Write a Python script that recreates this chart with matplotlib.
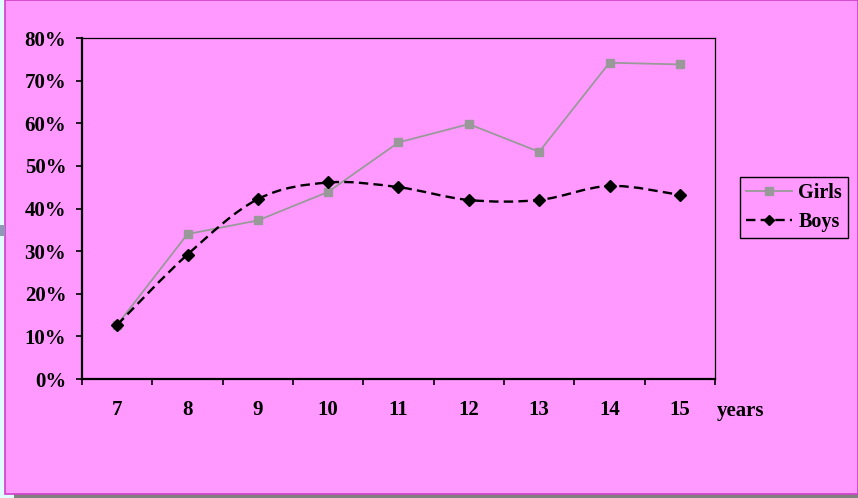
import matplotlib
matplotlib.use("Agg")
import matplotlib.pyplot as plt
from matplotlib.path import Path
from matplotlib.patches import PathPatch, Rectangle
from matplotlib.lines import Line2D
from matplotlib.ticker import FixedLocator, FuncFormatter
import numpy as np

ages = ["7", "8", "9", "10", "11", "12", "13", "14", "15"]
girls = [12.7, 34.0, 37.2, 43.9, 55.5, 59.8, 53.3, 74.2, 73.8]
boys = [12.7, 29.2, 42.2, 46.1, 45.0, 42.0, 42.0, 45.3, 43.2]
y_ticks = [0, 10, 20, 30, 40, 50, 60, 70, 80]
x_unit = "years"

W, H = 858, 498
plt.rcParams["font.family"] = ["Liberation Serif", "DejaVu Serif"]
plt.rcParams["font.weight"] = "bold"

fig = plt.figure(figsize=(W / 100, H / 100), dpi=100, facecolor="#E0FFFF")

# pink panel with a magenta frame and a grey drop shadow
fig.patches.append(Rectangle((14 / W, 0), (W - 14) / W, 4 / H, transform=fig.transFigure,
                             facecolor="#808080", edgecolor="none", zorder=-10))
fig.patches.append(Rectangle((5 / W, 4 / H), (W - 5) / W, (H - 4) / H, transform=fig.transFigure,
                             facecolor="#FF99FF", edgecolor="#D040C8", linewidth=1.2, zorder=-10))
fig.patches.append(Rectangle((0, (H - 236) / H), 5 / W, 11 / H, transform=fig.transFigure,
                             facecolor="#9098B8", edgecolor="none", zorder=-10))

ax = fig.add_axes([82 / W, (H - 379) / H, 633 / W, 341 / H])
ax.set_zorder(1)
ax.set_facecolor("#FF99FF")

x = np.arange(1, len(ages) + 1)

# girls: straight segments with square markers
ax.plot(x, girls, color="#999999", linewidth=1.3, marker="s", markersize=6,
        markerfacecolor="#999999", markeredgecolor="#999999", zorder=3, clip_on=False)


# boys: smoothed curve through the points (Catmull-Rom as cubic Beziers)
def smooth_path(xs, ys):
    pts = np.column_stack([xs, ys]).astype(float)
    n = len(pts)
    verts = [pts[0]]
    codes = [Path.MOVETO]
    for i in range(n - 1):
        p0 = pts[i - 1] if i > 0 else pts[i]
        p1 = pts[i]
        p2 = pts[i + 1]
        p3 = pts[i + 2] if i + 2 < n else pts[i + 1]
        c1 = p1 + (p2 - p0) / 6.0
        c2 = p2 - (p3 - p1) / 6.0
        verts += [c1, c2, p2]
        codes += [Path.CURVE4] * 3
    return Path(verts, codes)


ax.add_patch(PathPatch(smooth_path(x, boys), fill=False, edgecolor="black",
                       linewidth=1.7, linestyle=(0, (4, 2.2)), zorder=4, clip_on=False))
ax.plot(x, boys, linestyle="none", marker="D", markersize=6.5, color="black", zorder=5,
        clip_on=False)

ax.set_xlim(0.5, len(ages) + 0.5)
ax.set_ylim(0, 80)

# axes frame
for side in ("left", "bottom"):
    ax.spines[side].set_linewidth(1.6)
for side in ("top", "right"):
    ax.spines[side].set_linewidth(0.9)
for s in ax.spines.values():
    s.set_color("black")

ax.yaxis.set_major_locator(FixedLocator(y_ticks))
ax.yaxis.set_major_formatter(FuncFormatter(lambda v, p: f"{int(v)}%"))
ax.tick_params(axis="y", which="major", direction="out", length=4.3, width=1.2,
               pad=7, labelsize=15, colors="black")

# category boundaries carry the ticks, the centres carry the labels
ax.xaxis.set_major_locator(FixedLocator(np.arange(0.5, len(ages) + 1.0, 1.0)))
ax.xaxis.set_major_formatter(FuncFormatter(lambda v, p: ""))
ax.xaxis.set_minor_locator(FixedLocator(x))
ax.set_xticklabels(ages, minor=True)
ax.tick_params(axis="x", which="major", direction="out", length=4.3, width=1.2)
ax.tick_params(axis="x", which="minor", length=0, pad=15, labelsize=15)
for lbl in ax.get_xticklabels(minor=True) + ax.get_yticklabels():
    lbl.set_fontweight("bold")

ax.text(9.86, -7.4, x_unit, ha="center", va="center", fontsize=15, fontweight="bold",
        clip_on=False)

handles = [
    Line2D([], [], color="#999999", linewidth=1.3, marker="s", markersize=6),
    Line2D([], [], color="black", linewidth=1.7, linestyle=(0, (4, 2.2)), marker="D",
           markersize=5.5),
]
leg = fig.legend(handles, ["Girls", "Boys"], loc="center", bbox_to_anchor=(794 / W, (H - 207.5) / H),
                 frameon=True, fancybox=False, edgecolor="black", facecolor="#FF99FF",
                 framealpha=1, prop={"weight": "bold", "size": 14.5}, handlelength=2.3,
                 handletextpad=0.3, borderpad=0.3, labelspacing=0.45, borderaxespad=0)
leg.get_frame().set_linewidth(1.0)
leg.set_zorder(2)

fig.savefig("out.png", dpi=100, facecolor=fig.get_facecolor())
